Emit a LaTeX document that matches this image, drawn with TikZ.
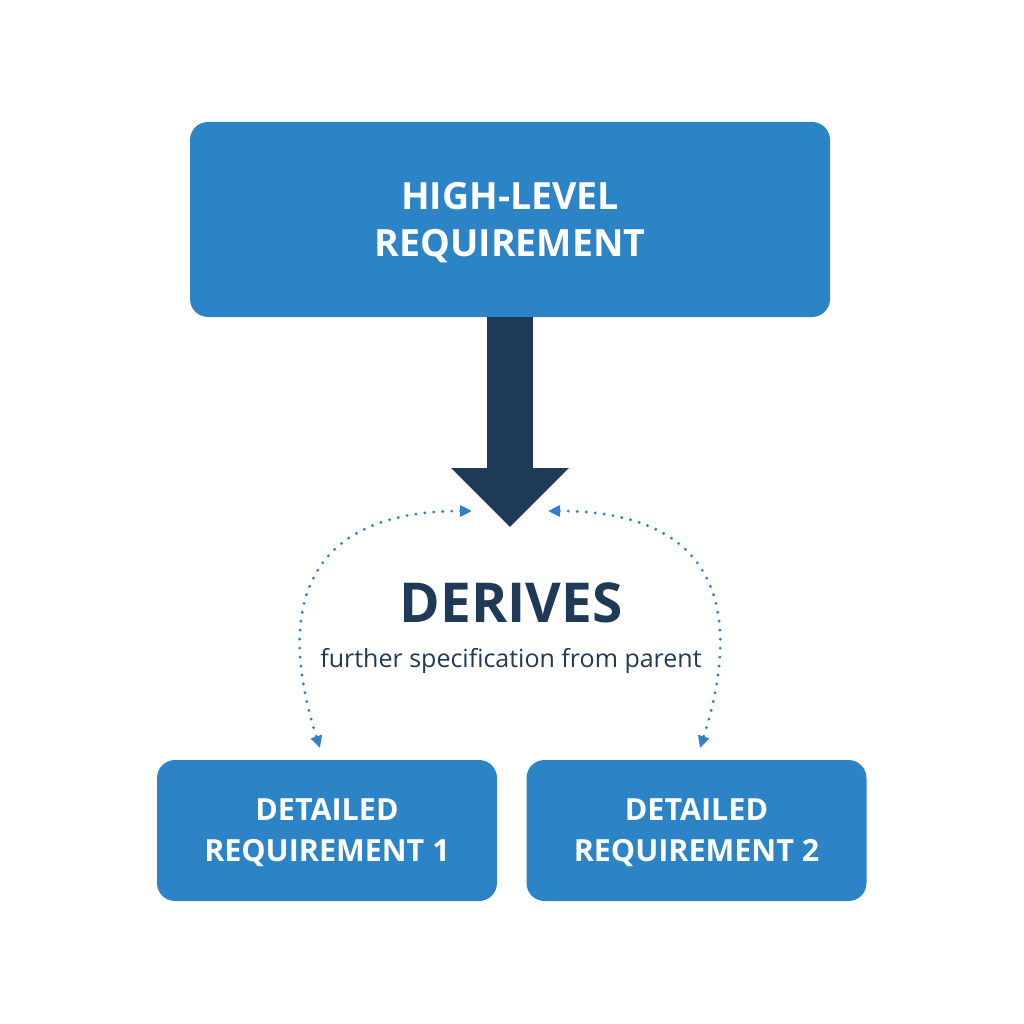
\documentclass[tikz,border=0pt]{standalone}
\usepackage{fontspec}
\setmainfont{Open Sans}
\usetikzlibrary{arrows.meta}
\definecolor{boxblue}{HTML}{2C84C6}
\definecolor{navy}{HTML}{1F3A57}
\definecolor{dotblue}{HTML}{2F80C6}

\begin{document}
\begin{tikzpicture}[x = 1pt, y = -1pt]
	\tikzstyle{reqStyle}=[rectangle, rounded corners = 18pt, fill = boxblue, text = white, align = center, inner sep = 0pt, text depth = 0pt]
	\tikzstyle{highStyle}=[reqStyle, minimum width = 640pt, minimum height = 195pt, font = \fontsize{37.5}{47}\selectfont\bfseries]
	\tikzstyle{detailStyle}=[reqStyle, minimum width = 340pt, minimum height = 141pt, font = \fontsize{30.5}{41}\selectfont\bfseries]
	\tikzstyle{linkStyle}=[draw = dotblue, line width = 3.2pt, dash pattern = on 0pt off 9pt, line cap = round, {Triangle[length = 12pt, width = 11pt]}-{Triangle[length = 12pt, width = 11pt]}]
	\useasboundingbox (0,0) rectangle (1024,1024);
	\node[highStyle] (high) at (510,219.5) {HIGH-LEVEL\\REQUIREMENT};
	\node[detailStyle] (det1) at (327,830.5) {DETAILED\\REQUIREMENT 1};
	\node[detailStyle] (det2) at (696.5,830.5) {DETAILED\\REQUIREMENT 2};
	\node[anchor = base, text = navy, font = \fontsize{55}{55}\selectfont\bfseries] (derives) at (511,622) {DERIVES};
	\node[anchor = base, text = navy, font = \fontsize{25}{25}\selectfont] (further) at (511,667) {further specification from parent};
	\coordinate (tip) at (510,527);
	\coordinate (la) at (472,511);
	\coordinate (ra) at (548,511);
	\coordinate (lb) at (320,748);
	\coordinate (rb) at (700,748);
	\draw[line width = 46pt, navy, -{Triangle[length = 59pt, width = 114pt]}] (high.south) -- (tip);
	\draw[linkStyle] (la) .. controls (260,511) and (295,670) .. (lb);
	\draw[linkStyle] (ra) .. controls (760,511) and (725,670) .. (rb);
\end{tikzpicture}
\end{document}
